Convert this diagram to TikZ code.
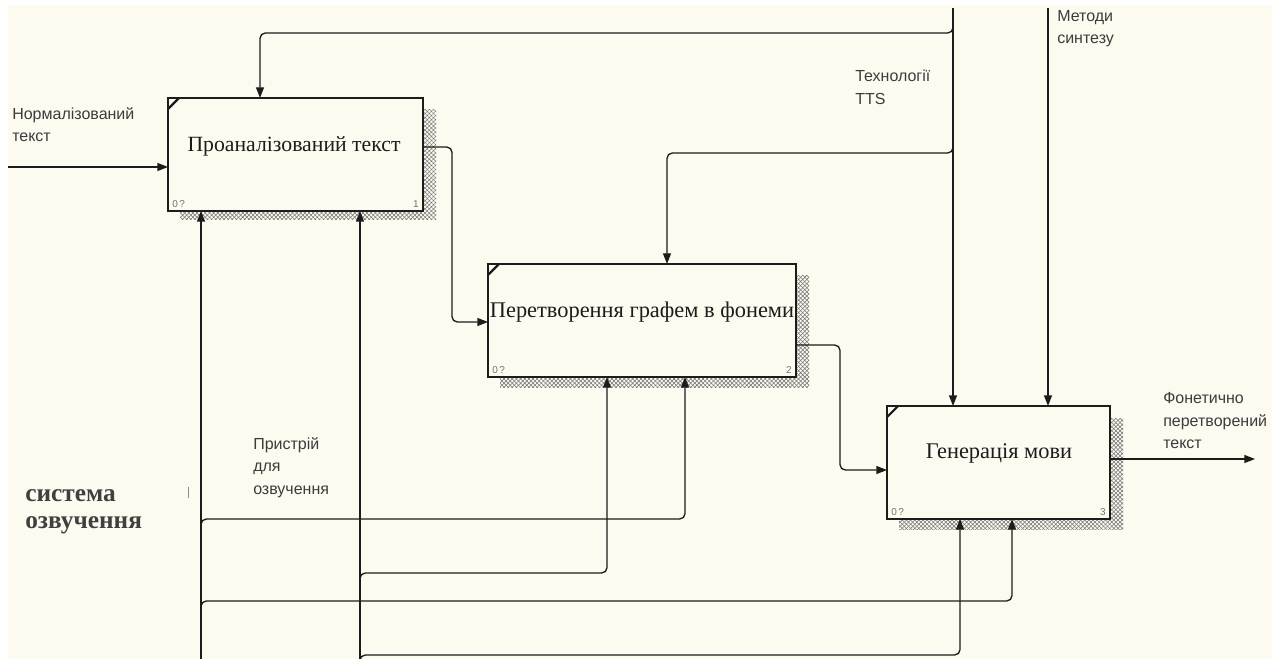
\documentclass[tikz,border=0pt]{standalone}
\usepackage{fontspec}
\setmainfont{Liberation Serif}
\setsansfont{Liberation Sans}
\usetikzlibrary{arrows.meta,calc,patterns.meta,backgrounds}
\definecolor{cream}{RGB}{253,250,240}
\definecolor{ink}{RGB}{28,28,28}
\definecolor{lbl}{RGB}{60,60,60}
\begin{document}
\begin{tikzpicture}[x=0.75pt,y=-0.75pt,
  fn/.style={draw=ink, line width=2.2pt, fill=cream, minimum height=84.75pt, inner sep=0pt, outer sep=0pt},
  boxtext/.style={font=\fontsize{16.8}{19}\selectfont, text=ink, inner sep=0pt},
  num/.style={font=\sffamily\fontsize{7.5}{8}\selectfont, text=black!55, inner sep=0pt},
  lab/.style={font=\sffamily\fontsize{12}{17}\selectfont, text=lbl, align=left, inner sep=0pt, anchor=north west},
  arr/.style={draw=ink, line width=1pt, rounded corners=4pt, -{Triangle[length=8pt,width=6pt]}},
  hatch/.style={pattern={Lines[angle=45,distance=2.2pt,line width=0.4pt]}, pattern color=black!55,
                postaction={pattern={Lines[angle=-45,distance=2.2pt,line width=0.4pt]}, pattern color=black!55}},
  corner/.style={draw=ink, line width=1.6pt}
]
\useasboundingbox (0,0) rectangle (1282,659);

% boxes
\node[fn, minimum width=191.25pt] (b1) at (295.5,154.5) {};
\node[fn, minimum width=231pt] (b2) at (642,320.5) {};
\node[fn, minimum width=167.25pt] (b3) at (998.5,462.5) {};

\begin{scope}[on background layer]
  \fill[white] (0,0) rectangle (1282,659);
  \fill[cream] (8,5) rectangle (1272,659);
  \fill[hatch] ($(b1.north west)+(12,12)$) rectangle ($(b1.south east)+(13,9)$);
  \fill[hatch] ($(b2.north west)+(12,12)$) rectangle ($(b2.south east)+(13,10)$);
  \fill[hatch] ($(b3.north west)+(12,12)$) rectangle ($(b3.south east)+(13,10)$);
\end{scope}

\node[boxtext, font=\fontsize{16.3}{19}\selectfont] (b1t) at (294,146) {Проаналізований текст};
\node[boxtext] (b2t) at (642,312) {Перетворення графем в фонеми};
\node[boxtext] (b3t) at (999,453) {Генерація мови};

\foreach \b/\n in {b1/1,b2/2,b3/3}{
  \draw[corner] ($(\b.north west)+(0,11)$) -- ($(\b.north west)+(11,0)$);
  \node[num, anchor=south west] at ($(\b.south west)+(4,-3)$) {0\,?};
  \node[num, anchor=south east] at ($(\b.south east)+(-4,-3)$) {\n};
}

% input
\coordinate (in1) at (8,167);
\draw[arr] (in1) -- (in1 -| b1.west);

% controls
\coordinate (tts) at (953,8);
\coordinate (ms) at (1048,8);
\coordinate (c1) at (260,33);
\coordinate (c2) at (667,153);
\draw[arr] (tts) -- (tts |- b3.north);
\draw[arr] (ms) -- (ms |- b3.north);
\draw[arr] (953,22) -- (tts |- c1) -- (c1) -- (c1 |- b1.north);
\draw[arr] (953,142) -- (tts |- c2) -- (c2) -- (c2 |- b2.north);

% flows between boxes
\coordinate (j1) at (452,147);
\coordinate (j2) at (452,322);
\draw[arr] (b1.east |- j1) -- (j1) -- (j2) -- (j2 -| b2.west);
\coordinate (j3) at (840,345);
\coordinate (j4) at (840,470);
\draw[arr] (b2.east |- j3) -- (j3) -- (j4) -- (j4 -| b3.west);

% output
\coordinate (out) at (1255,459);
\draw[arr] (out -| b3.east) -- (out);

% mechanisms
\coordinate (m1) at (201,659);
\coordinate (m2) at (360,659);
\draw[arr] (m1) -- (m1 |- b1.south);
\draw[arr] (m2) -- (m2 |- b1.south);
\coordinate (k1) at (685,519);
\coordinate (k2) at (607,573);
\coordinate (k3) at (1012,601);
\coordinate (k4) at (960,655);
\draw[arr] (201,531) -- (m1 |- k1) -- (k1) -- (k1 |- b2.south);
\draw[arr] (360,585) -- (m2 |- k2) -- (k2) -- (k2 |- b2.south);
\draw[arr] (201,613) -- (m1 |- k3) -- (k3) -- (k3 |- b3.south);
\draw[arr] (360,667) -- (m2 |- k4) -- (k4) -- (k4 |- b3.south);

% small stray tick
\draw[black!45, line width=0.6pt] (188,487) -- (188,498);

% labels
\node[lab] (l1) at (12,107) {Нормалізований\\текст};
\node[lab] (l2) at (855,70) {Технології\\TTS};
\node[lab] (l3) at (1057,10) {Методи\\синтезу};
\node[lab] (l4) at (1163,392) {Фонетично\\перетворений\\текст};
\node[lab] (l5) at (253,437) {Пристрій\\для\\озвучення};
\node[font=\bfseries\fontsize{19}{20.5}\selectfont, text=black!75, align=left, inner sep=0pt, anchor=north west] (l6) at (25,489) {система\\озвучення};
\end{tikzpicture}
\end{document}
